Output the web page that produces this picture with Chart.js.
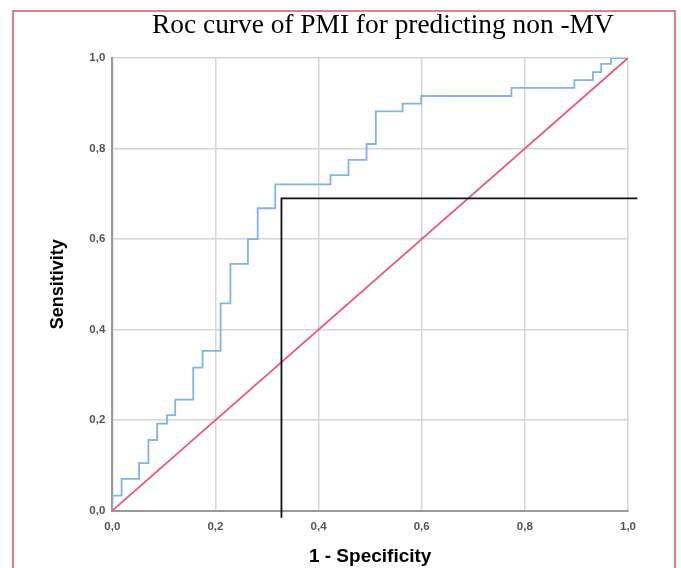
<!DOCTYPE html>
<html>
<head>
<meta charset="utf-8">
<script src="https://cdn.jsdelivr.net/npm/chart.js@4"></script>
<style>
  html, body { margin: 0; padding: 0; background: #fff; }
  #wrap { width: 681px; height: 568px; }
</style>
</head>
<body>
<div id="wrap"><canvas id="graph" width="681" height="568"></canvas></div>
<script>
// valeurs
var fpr = [0, 0, 0.018, 0.052, 0.070, 0.087, 0.106, 0.122, 0.157, 0.175, 0.210, 0.229, 0.263,
  0.282, 0.316, 0.423, 0.458, 0.493, 0.511, 0.563, 0.599, 0.774, 0.896, 0.932, 0.948, 0.967, 1.0];
var tpr = [0, 0.033, 0.070, 0.105, 0.156, 0.192, 0.211, 0.245, 0.316, 0.353, 0.458, 0.545, 0.600,
  0.668, 0.721, 0.741, 0.775, 0.810, 0.882, 0.899, 0.916, 0.934, 0.951, 0.969, 0.987, 1.0, 1.0];
var refX = [0, 1];
var refY = [0, 1];
var cutX = [0.328, 0.328, 1.018];
var cutY = [-0.016, 0.690, 0.690];
var ticks = [0, 0.2, 0.4, 0.6, 0.8, 1.0];
var titre = 'Roc curve of PMI for predicting non -MV';

function points(xs, ys) {
  var pts = [];
  for (var i = 0; i < xs.length; i++) pts.push({x: xs[i], y: ys[i]});
  return pts;
}

function virgule(v) { return v.toFixed(1).replace('.', ','); }

// cadre rouge + titre
var cadre = {
  id: 'cadre',
  afterDraw: function(chart) {
    var ctx = chart.ctx;
    ctx.save();
    ctx.strokeStyle = '#cc5a68';
    ctx.lineWidth = 1.5;
    ctx.beginPath();
    ctx.moveTo(13, 570);
    ctx.lineTo(13, 11);
    ctx.lineTo(675, 11);
    ctx.lineTo(675, 570);
    ctx.stroke();
    ctx.fillStyle = '#000';
    ctx.font = '27.4px "Liberation Serif"';
    ctx.textAlign = 'left';
    ctx.textBaseline = 'alphabetic';
    ctx.fillText(titre, 152, 33);
    ctx.restore();
  }
};

var data = {
  datasets: [
    {
      label: 'roc',
      data: points(fpr, tpr),
      stepped: 'before',
      borderColor: '#80b2ee',
      borderWidth: 1.8,
      pointRadius: 0,
      fill: false,
      order: 2
    },
    {
      label: 'ref',
      data: points(refX, refY),
      borderColor: '#e8587a',
      borderWidth: 1.8,
      pointRadius: 0,
      fill: false,
      order: 1
    },
    {
      label: 'cut',
      data: points(cutX, cutY),
      borderColor: '#111',
      borderWidth: 1.8,
      pointRadius: 0,
      fill: false,
      clip: false,
      order: 0
    }
  ]
};

var tickFont = { family: '"Liberation Sans"', size: 11.5, weight: 'bold' };

var config = {
  type: 'line',
  data: data,
  plugins: [cadre],
  options: {
    responsive: false,
    animation: false,
    layout: { padding: { top: 58, right: 53, left: 0, bottom: 0 } },
    plugins: { legend: { display: false }, tooltip: { enabled: false } },
    scales: {
      x: {
        type: 'linear', min: 0, max: 1,
        afterBuildTicks: function(s) { s.ticks = ticks.map(function(v) { return {value: v}; }); },
        afterFit: function(s) { s.height = 57.4; },
        grid: { color: '#d6d6d6', lineWidth: 1.5, drawTicks: false },
        border: { color: '#9a9a9a', width: 2 },
        ticks: { padding: 9, color: '#555', font: tickFont, callback: virgule, maxRotation: 0 },
        title: { display: true, text: '1 - Specificity', color: '#000',
          font: { family: '"Liberation Sans"', size: 19, weight: 'bold' }, padding: { top: 0, bottom: 0 } }
      },
      y: {
        type: 'linear', min: 0, max: 1,
        afterBuildTicks: function(s) { s.ticks = ticks.map(function(v) { return {value: v}; }); },
        afterFit: function(s) { s.width = 112.3; },
        grid: { color: '#d6d6d6', lineWidth: 1.5, drawTicks: false },
        border: { color: '#9a9a9a', width: 2 },
        ticks: { padding: 7, color: '#555', font: tickFont, callback: virgule },
        title: { display: true, text: 'Sensitivity', color: '#000',
          font: { family: '"Liberation Sans"', size: 18, weight: 'bold' }, padding: { top: 47, bottom: 0 } }
      }
    }
  }
};

new Chart(document.getElementById('graph'), config);
</script>
</body>
</html>
